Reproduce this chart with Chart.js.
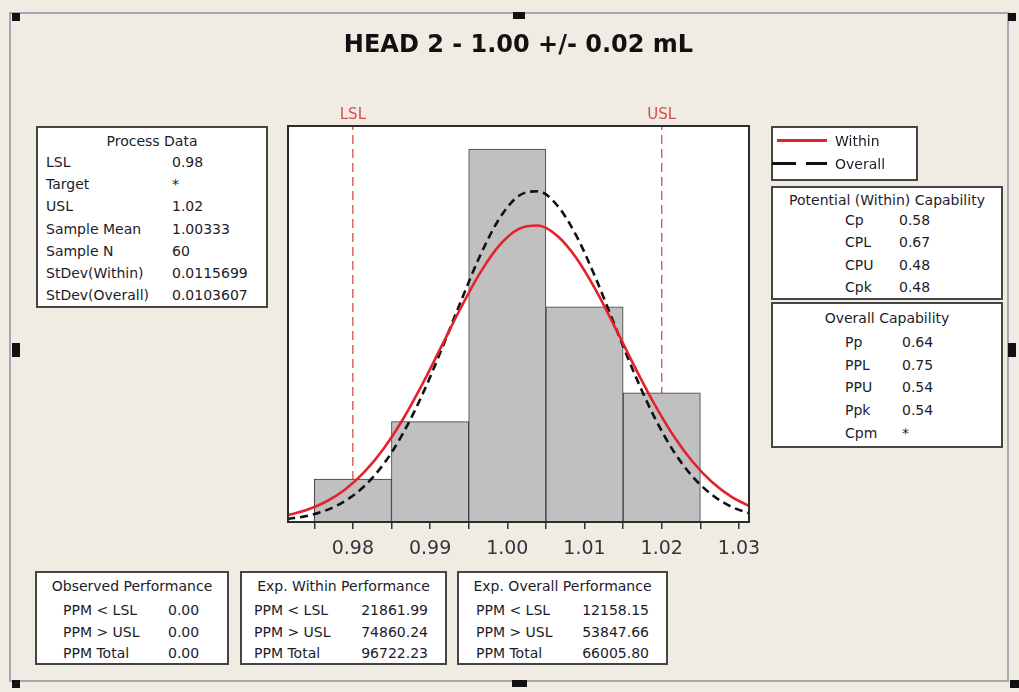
<!DOCTYPE html>
<html>
<head>
<meta charset="utf-8">
<script src="https://cdn.jsdelivr.net/npm/chart.js@4.4.1/dist/chart.umd.min.js"></script>
<style>
  html, body { margin:0; padding:0; }
  body { width:1019px; height:692px; overflow:hidden; background:#f1ece3; position:relative;
         font-family:"DejaVu Sans", Verdana, sans-serif; color:#1c1c2a; }
  #frame { position:absolute; left:9px; top:12px; width:1000px; height:670px; box-sizing:border-box;
           border:2px solid #a4a9b0; }
  .handle { position:absolute; background:#111; }
  canvas#c { position:absolute; left:0; top:0; }
  .box { position:absolute; box-sizing:border-box; border:2px solid #454545; background:#fff; }
  .t { position:absolute; font-size:14px; line-height:1; white-space:nowrap; transform:translateY(-50%); }
  .tc { transform:translate(-50%,-50%); }
  .tr { transform:translate(-100%,-50%); }
  #title { position:absolute; left:0; width:1037px; text-align:center; top:32px; font-size:24px; line-height:24px;
           font-weight:bold; color:#111; }
</style>
</head>
<body>
<div id="frame"></div>
<canvas id="c" width="1019" height="692"></canvas>
<div id="title">HEAD 2 - 1.00 +/- 0.02 mL</div>
<script>
// ---------------- data ----------------
const binCenters = [0.98, 0.99, 1.00, 1.01, 1.02];
const binCounts  = [3, 7, 26, 15, 9];

const curveX = [0.9715, 0.974, 0.9765, 0.979, 0.9815, 0.984, 0.9865, 0.989, 0.9915, 0.994, 0.9965, 0.999,
                1.0015, 1.004, 1.0065, 1.009, 1.0115, 1.014, 1.0165, 1.019, 1.0215, 1.024, 1.0265, 1.029, 1.0315];
const withinFit  = [0.47, 0.83, 1.41, 2.27, 3.49, 5.13, 7.18, 9.61, 12.27, 14.95, 17.38, 19.29,
                    20.43, 20.66, 19.93, 18.35, 16.13, 13.52, 10.82, 8.27, 6.03, 4.20, 2.79, 1.77, 1.07];
const overallFit = [0.21, 0.42, 0.81, 1.47, 2.51, 4.05, 6.18, 8.88, 12.04, 15.40, 18.59, 21.17,
                    22.74, 23.05, 22.04, 19.89, 16.93, 13.59, 10.30, 7.36, 4.96, 3.16, 1.90, 1.07, 0.57];

const specLimits = [0.98, 1.02];
const specLabels = ['LSL', 'USL'];

const majorTicks = [0.98, 0.99, 1.00, 1.01, 1.02, 1.03];
const tickLabels = ['0.98', '0.99', '1.00', '1.01', '1.02', '1.03'];
const minorTicks = [0.975, 0.985, 0.995, 1.005, 1.015, 1.025];

const processLabels = ['LSL', 'Target', 'USL', 'Sample Mean', 'Sample N', 'StDev(Within)', 'StDev(Overall)'];
const processValues = ['0.98', '*', '1.02', '1.00333', '60', '0.0115699', '0.0103607'];

const withinCapLabels = ['Cp', 'CPL', 'CPU', 'Cpk'];
const withinCapValues = ['0.58', '0.67', '0.48', '0.48'];

const overallCapLabels = ['Pp', 'PPL', 'PPU', 'Ppk', 'Cpm'];
const overallCapValues = ['0.64', '0.75', '0.54', '0.54', '*'];

const perfLabels = ['PPM < LSL', 'PPM > USL', 'PPM Total'];
const observedValues = ['0.00', '0.00', '0.00'];
const expWithinValues = ['21861.99', '74860.24', '96722.23'];
const expOverallValues = ['12158.15', '53847.66', '66005.80'];

// ---------------- chart ----------------
const X_MIN = 0.9716, X_MAX = 1.0313, Y_MAX = 27.6;

const plotFrame = {
  id: 'plotFrame',
  beforeDraw(chart) {
    const a = chart.chartArea, ctx = chart.ctx;
    ctx.save(); ctx.fillStyle = '#ffffff';
    ctx.fillRect(a.left, a.top, a.right - a.left, a.bottom - a.top);
    ctx.restore();
  },
  afterDraw(chart) {
    const a = chart.chartArea, ctx = chart.ctx;
    ctx.save();
    ctx.strokeStyle = '#2b2b2b'; ctx.lineWidth = 2;
    ctx.strokeRect(a.left, a.top, a.right - a.left, a.bottom - a.top);
    ctx.fillStyle = '#e04a4a';
    ctx.font = '15px "DejaVu Sans"';
    ctx.textAlign = 'center'; ctx.textBaseline = 'middle';
    specLimits.forEach((v, i) => {
      ctx.fillText(specLabels[i], chart.scales.x.getPixelForValue(v), a.top - 11);
    });
    ctx.restore();
  }
};

const specDatasets = specLimits.map((v, i) => ({
  type: 'line',
  label: specLabels[i],
  data: [{x: v, y: 0}, {x: v, y: Y_MAX}],
  borderColor: '#e04a4a',
  borderWidth: 1.3,
  borderDash: [9, 5],
  pointRadius: 0,
  order: 5
}));

new Chart(document.getElementById('c'), {
  type: 'bar',
  data: {
    datasets: [
      {
        type: 'bar',
        label: 'Counts',
        data: binCenters.map((x, i) => ({x: x, y: binCounts[i]})),
        backgroundColor: '#c0c0c0',
        borderColor: '#3c3c3c',
        borderWidth: 1,
        borderSkipped: false,
        barThickness: 'flex',
        barPercentage: 1,
        categoryPercentage: 1,
        order: 4
      },
      {
        type: 'line',
        label: 'Overall',
        data: curveX.map((x, i) => ({x: x, y: overallFit[i]})),
        borderColor: '#111111',
        borderWidth: 2.6,
        borderDash: [8, 5],
        pointRadius: 0,
        cubicInterpolationMode: 'monotone',
        order: 2
      },
      {
        type: 'line',
        label: 'Within',
        data: curveX.map((x, i) => ({x: x, y: withinFit[i]})),
        borderColor: '#e3222a',
        borderWidth: 2.6,
        pointRadius: 0,
        cubicInterpolationMode: 'monotone',
        order: 1
      },
      ...specDatasets
    ]
  },
  options: {
    responsive: false,
    devicePixelRatio: 1,
    animation: false,
    layout: { padding: { left: 288, right: 270, top: 126, bottom: 0 } },
    plugins: { legend: { display: false }, tooltip: { enabled: false }, title: { display: false } },
    scales: {
      x: {
        type: 'linear',
        min: X_MIN, max: X_MAX,
        offset: false,
        afterFit(scale) { scale.height = 170; },
        afterBuildTicks(scale) {
          scale.ticks = majorTicks.concat(minorTicks).sort((a, b) => a - b).map(v => ({value: v}));
        },
        ticks: {
          autoSkip: false, maxRotation: 0, minRotation: 0,
          padding: 9,
          color: '#34343f',
          font: { family: 'DejaVu Sans', size: 19 },
          callback(value) {
            const idx = majorTicks.findIndex(m => Math.abs(m - value) < 1e-9);
            return idx >= 0 ? tickLabels[idx] : '';
          }
        },
        grid: { display: true, offset: false, drawOnChartArea: false, drawTicks: true, tickLength: 7, color: '#333', lineWidth: 1.5 },
        border: { display: true, color: '#2b2b2b', width: 2 }
      },
      y: { display: false, min: 0, max: Y_MAX }
    }
  },
  plugins: [plotFrame]
});

// ---------------- text boxes ----------------
function addBox(l, t, r, b) {
  const d = document.createElement('div');
  d.className = 'box';
  Object.assign(d.style, { left: l + 'px', top: t + 'px', width: (r - l) + 'px', height: (b - t) + 'px' });
  document.body.appendChild(d);
  return d;
}
function addText(txt, x, y, cls) {
  const d = document.createElement('div');
  d.className = 't' + (cls ? ' ' + cls : '');
  d.textContent = txt;
  d.style.left = x + 'px'; d.style.top = y + 'px';
  document.body.appendChild(d);
  return d;
}
function tableBox(l, t, r, b, title, titleY, labels, values, lx, vx, y0, step, valueAlign) {
  addBox(l, t, r, b);
  addText(title, (l + r) / 2, titleY, 'tc');
  labels.forEach((lab, i) => {
    addText(lab, lx, y0 + i * step);
    addText(values[i], vx, y0 + i * step, valueAlign === 'right' ? 'tr' : '');
  });
}

tableBox(36, 126, 268, 308, 'Process Data', 141, processLabels, processValues, 46, 172, 162, 22.2);
tableBox(771, 186, 1003, 300, 'Potential (Within) Capability', 200, withinCapLabels, withinCapValues, 845, 899, 220, 22.3);
tableBox(771, 302, 1003, 448, 'Overall Capability', 318, overallCapLabels, overallCapValues, 845, 902, 342, 22.7);

tableBox(35, 571, 229, 665, 'Observed Performance', 586, perfLabels, observedValues, 63, 168, 610, 21.5);
tableBox(240, 571, 447, 665, 'Exp. Within Performance', 586, perfLabels, expWithinValues, 254, 428, 610, 21.5, 'right');
tableBox(457, 571, 668, 665, 'Exp. Overall Performance', 586, perfLabels, expOverallValues, 476, 649, 610, 21.5, 'right');

// legend box
addBox(771, 126, 918, 181);
(function () {
  const red = document.createElement('div');
  Object.assign(red.style, { position: 'absolute', left: '777px', top: '139px', width: '50px', height: '3px', background: '#e3222a' });
  document.body.appendChild(red);
  const dash = document.createElement('div');
  Object.assign(dash.style, { position: 'absolute', left: '772px', top: '162px', width: '55px', height: '3px',
    background: 'repeating-linear-gradient(90deg, #111 0 24px, transparent 24px 34px)' });
  document.body.appendChild(dash);
})();
addText('Within', 835, 141);
addText('Overall', 835, 164);

// selection handles
[[12,13,8,8],[513,12,12,7],[1008,13,8,8],[12,343,8,14],[1008,343,8,14],[12,680,8,8],[512,680,15,7],[1010,680,9,8]]
  .forEach(h => {
    const d = document.createElement('div');
    d.className = 'handle';
    Object.assign(d.style, { left: h[0] + 'px', top: h[1] + 'px', width: h[2] + 'px', height: h[3] + 'px' });
    document.body.appendChild(d);
  });
</script>
</body>
</html>
